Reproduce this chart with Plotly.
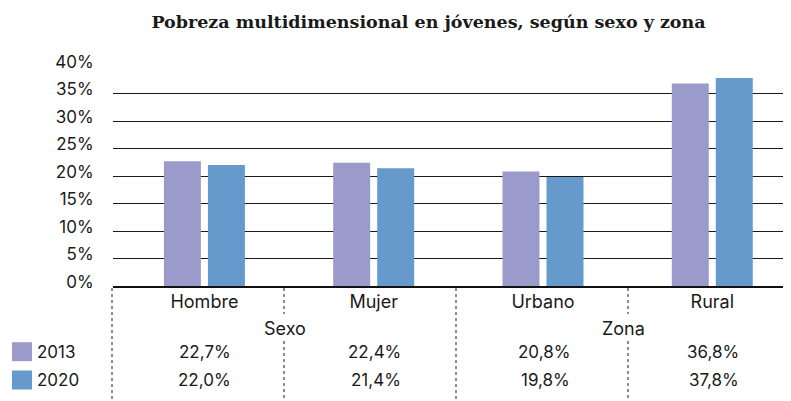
import plotly.graph_objects as go

# ---- data ----
categories = ["Hombre", "Mujer", "Urbano", "Rural"]
groups = ["Sexo", "Zona"]
series_names = ["2013", "2020"]
values_2013 = [22.7, 22.4, 20.8, 36.8]
values_2020 = [22.0, 21.4, 19.8, 37.8]
y_ticks = [0, 5, 10, 15, 20, 25, 30, 35, 40]
title_text = "Pobreza multidimensional en jóvenes, según sexo y zona"

# ---- style / layout ----
colors = ["#9A9ACB", "#6699CC"]
SANS = "Inter, 'DejaVu Sans', sans-serif"
SERIF = "'DejaVu Serif', serif"
TXT = "#1a1a1a"
OFF = 8  # default body margin of the html page
W, H = 791, 401
L, R, T, B = 113 - OFF, OFF, 66 - OFF, H - (286 - OFF)


def px_x(p):  # screen pixel -> paper x
    return (p - OFF - L) / (W - L - R)


def px_y(p):  # screen pixel -> paper y
    return (H - B - (p - OFF)) / (H - T - B)


def fmt(v):
    return f"{v:.1f}".replace(".", ",") + "%"


series_values = [values_2013, values_2020]

fig = go.Figure()
for name, vals, col in zip(series_names, series_values, colors):
    fig.add_trace(go.Bar(x=categories, y=vals, name=name, marker=dict(color=col, line=dict(width=0)),
                         showlegend=False))

annotations = []
shapes = []

# group labels (centered between the two categories of each group)
for gi, g in enumerate(groups):
    annotations.append(dict(x=gi * 2 + 0.5, xref="x", y=px_y(328), yref="paper", text=g,
                            showarrow=False, xanchor="center", yanchor="middle", xshift=-4,
                            font=dict(family=SANS, size=18, color=TXT)))

# table rows: legend square, series name, values
row_y = [351.7, 380.0]
for si, (name, vals, col) in enumerate(zip(series_names, series_values, colors)):
    yc = row_y[si]
    shapes.append(dict(type="rect", xref="paper", yref="paper", x0=px_x(12), x1=px_x(32),
                       y0=px_y(yc + 9.5), y1=px_y(yc - 9.5), fillcolor=col, line=dict(width=0)))
    annotations.append(dict(x=px_x(35), xref="paper", y=px_y(yc), yref="paper", text=name,
                            showarrow=False, xanchor="left", yanchor="middle",
                            font=dict(family=SANS, size=17, color=TXT)))
    for cat, v in zip(categories, vals):
        annotations.append(dict(x=cat, xref="x", y=px_y(yc), yref="paper", text=fmt(v),
                                showarrow=False, xanchor="right", yanchor="middle", xshift=29,
                                font=dict(family=SANS, size=17, color=TXT)))

# dotted separators of the table
dot = dict(color="#444444", width=1.2, dash="dot")
for sx in [112, 456]:
    shapes.append(dict(type="line", xref="paper", yref="paper", x0=px_x(sx), x1=px_x(sx),
                       y0=px_y(288), y1=px_y(400), line=dot))
for sx in [284, 628]:
    shapes.append(dict(type="line", xref="paper", yref="paper", x0=px_x(sx), x1=px_x(sx),
                       y0=px_y(288), y1=px_y(314), line=dot))
    shapes.append(dict(type="line", xref="paper", yref="paper", x0=px_x(sx), x1=px_x(sx),
                       y0=px_y(341), y1=px_y(400), line=dot))

fig.update_layout(
    width=W, height=H,
    margin=dict(l=L, r=R, t=T, b=B, pad=0, autoexpand=False),
    paper_bgcolor="white", plot_bgcolor="white",
    barmode="group", bargap=0.48, bargroupgap=0.16,
    title=dict(text=title_text, x=(428.5 - OFF) / W, xanchor="center", xref="container",
               y=1 - (21.5 - OFF) / H, yanchor="middle",
               font=dict(family=SERIF, size=17.5, color=TXT, weight="bold")),
    annotations=annotations,
    shapes=shapes,
    xaxis=dict(range=[-0.54, 3.465], showgrid=False, zeroline=False,
               showline=True, linecolor="#111111", linewidth=2.2,
               ticks="", ticklabelstandoff=-2,
               tickfont=dict(family=SANS, size=18, color=TXT), fixedrange=True),
    yaxis=dict(range=[0, 40], tickvals=y_ticks, ticktext=[f"{t}%" for t in y_ticks],
               showgrid=True, gridcolor="#1a1a1a", gridwidth=1.3, zeroline=False,
               showline=False, ticks="outside", ticklen=15, tickcolor="rgba(0,0,0,0)",
               ticklabelshift=-4, tickfont=dict(family=SANS, size=17, color=TXT), fixedrange=True),
)

fig.write_html("out.html")
